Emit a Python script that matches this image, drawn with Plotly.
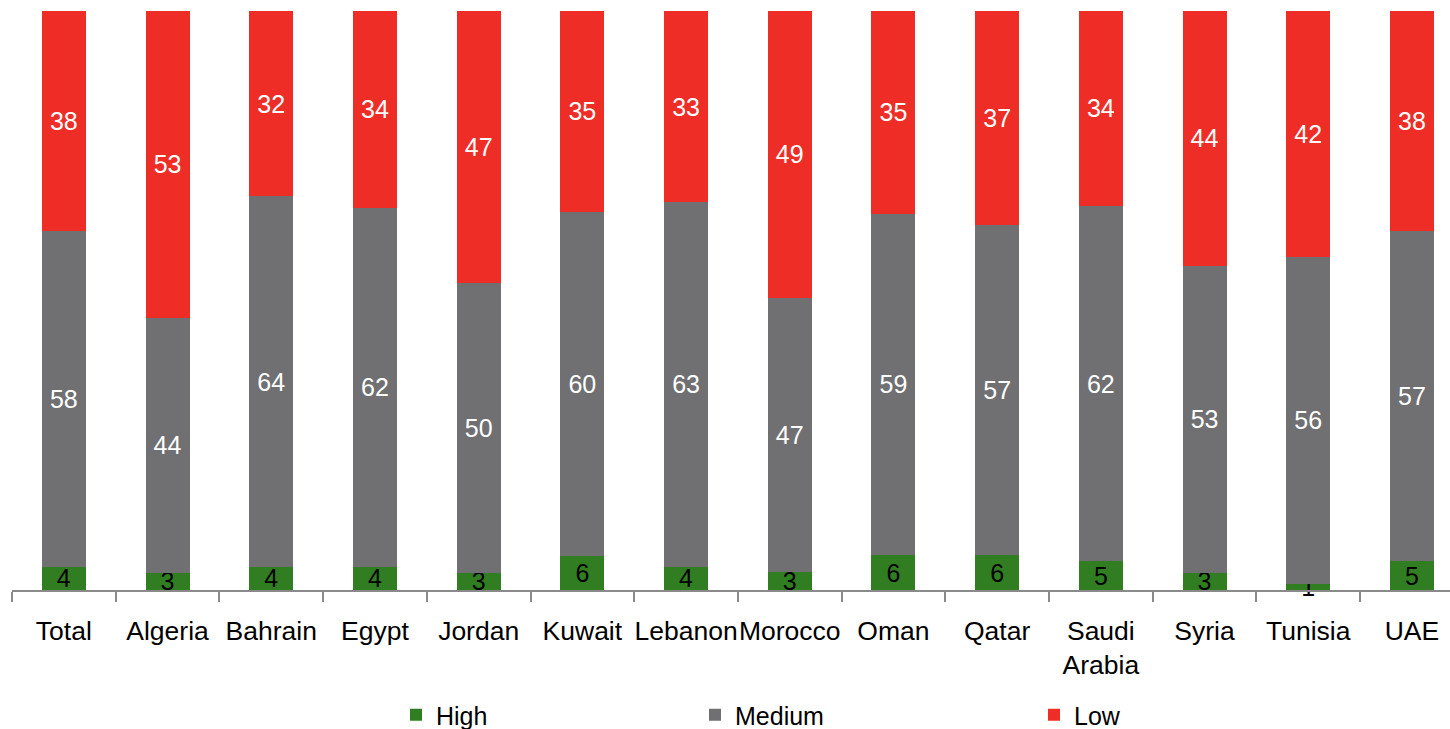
import plotly.graph_objects as go

categories = ["Total", "Algeria", "Bahrain", "Egypt", "Jordan", "Kuwait", "Lebanon",
              "Morocco", "Oman", "Qatar", "Saudi<br>Arabia", "Syria", "Tunisia", "UAE"]
high = [4, 3, 4, 4, 3, 6, 4, 3, 6, 6, 5, 3, 1, 5]
medium = [58, 44, 64, 62, 50, 60, 63, 47, 59, 57, 62, 53, 56, 57]
low = [38, 53, 32, 34, 47, 35, 33, 49, 35, 37, 34, 44, 42, 38]

W, H = 1450, 729
L, R, T, B = 12, 0, 11, 139
FONT = "Liberation Sans, Arial, sans-serif"

series = [
    ("High", high, "#317E22", "black", "legend"),
    ("Medium", medium, "#707072", "white", "legend2"),
    ("Low", low, "#EE2D26", "white", "legend3"),
]

fig = go.Figure()
for name, vals, col, tcol, lg in series:
    fig.add_trace(go.Bar(
        x=categories, y=vals, name=name, marker=dict(color=col, line=dict(width=0)),
        width=0.424, text=[str(v) for v in vals], textposition="inside",
        insidetextanchor="middle", constraintext="none", textangle=0,
        textfont=dict(color=tcol, size=25, family=FONT), cliponaxis=False,
        legend=lg,
    ))

def px2x(p):
    return (p - L) / (W - L - R)

def py2y(p):
    return (H - B - p) / (H - B - T)

leg_common = dict(orientation="h", xanchor="left", yanchor="middle",
                  font=dict(size=25, family=FONT, color="black"),
                  bgcolor="rgba(0,0,0,0)", borderwidth=0)

fig.update_layout(
    width=W, height=H,
    margin=dict(l=L, r=R, t=T, b=B, pad=0, autoexpand=False),
    barmode="stack", barnorm="percent",
    plot_bgcolor="white", paper_bgcolor="white",
    font=dict(family=FONT, size=25, color="black"),
    showlegend=True,
    legend=dict(x=px2x(396), y=py2y(715), **leg_common),
    legend2=dict(x=px2x(695), y=py2y(715), **leg_common),
    legend3=dict(x=px2x(1034), y=py2y(715), **leg_common),
    xaxis=dict(
        range=[-0.5, -0.5 + (W - L - R) / 103.7],
        showline=True, linecolor="#8A8A8A", linewidth=2,
        ticks="outside", tickson="boundaries", ticklen=10, tickwidth=2,
        tickcolor="#8A8A8A", showgrid=False, zeroline=False,
        tickangle=0, automargin=False,
        tickfont=dict(size=26.5, family=FONT, color="black"),
        ticklabelstandoff=16,
    ),
    yaxis=dict(range=[0, 100], visible=False, showgrid=False, zeroline=False,
               automargin=False),
)

fig.write_html("out.html")
